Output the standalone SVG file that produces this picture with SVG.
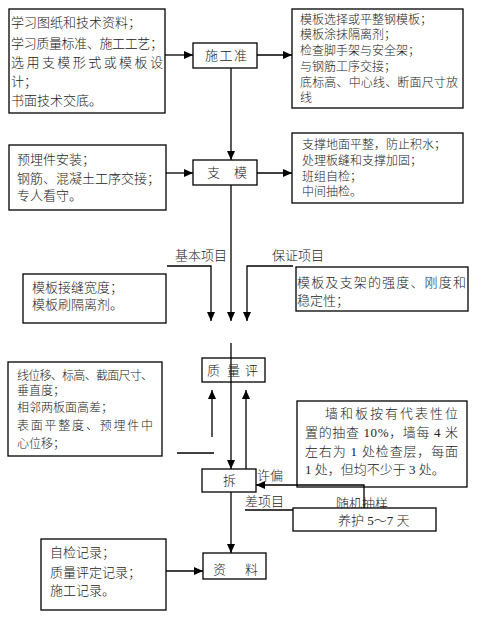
<svg xmlns="http://www.w3.org/2000/svg" width="487" height="619" viewBox="0 0 487 619">
<defs>
<marker id="ah" markerUnits="userSpaceOnUse" markerWidth="10" markerHeight="8" refX="9" refY="4" orient="auto">
<path d="M0,0 L9,4 L0,8 Z" fill="#000"/>
</marker>
<style>
.b{fill:#fff;stroke:#000;stroke-width:1.3}
.c{fill:none;stroke:#000;stroke-width:1.3}
.a{marker-end:url(#ah)}
text{font-family:"Liberation Serif","Noto Sans CJK SC",serif;font-size:13px;fill:#222;font-weight:300}
.s{font-size:12px}
</style>
</defs>
<rect width="487" height="619" fill="#fff"/>
<g id="connectors">
<path class="c a" d="M165,55 H193"/>
<path class="c a" d="M257,55 H292"/>
<path class="c a" d="M231,68 V160"/>
<path class="c a" d="M166,173 H193"/>
<path class="c a" d="M257,173 H292"/>
<path class="c a" d="M231,185 V321"/>
<path class="c a" d="M167,266 H211 V321"/>
<path class="c a" d="M293,266 H247 V321"/>
<path class="c a" d="M231,343 V469"/>
<path class="c a" d="M212,437 V390"/>
<path class="c a" d="M246,469 V390"/>
<path class="c" d="M177,453 H214"/>
<path class="c a" d="M364,508 V485 H256"/>
<path class="c" d="M245,510 H293"/>
<path class="c a" d="M231,492 V553"/>
<path class="c a" d="M166,571 H203"/>
</g>
<g id="n-prep-left">
<rect class="b" x="9" y="9" width="156" height="104"/>
<text x="11" y="27">学习图纸和技术资料；</text>
<text x="11" y="48" textLength="152" lengthAdjust="spacing">学习质量标准、施工工艺；</text>
<text x="11" y="67" textLength="152" lengthAdjust="spacing">选用支模形式或模板设</text>
<text x="11" y="86">计；</text>
<text x="11" y="105">书面技术交底。</text>
</g>
<g id="n-prep">
<rect class="b" x="193" y="43" width="64" height="25"/>
<text x="205" y="60" textLength="42" lengthAdjust="spacing">施工准</text>
</g>
<g id="n-prep-right">
<rect class="b" x="292" y="9" width="171" height="99"/>
<text class="s" x="300" y="24">模板选择或平整钢模板；</text>
<text class="s" x="300" y="39">模板涂抹隔离剂；</text>
<text class="s" x="300" y="55">检查脚手架与安全架；</text>
<text class="s" x="300" y="71">与钢筋工序交接；</text>
<text class="s" x="300" y="87" textLength="158" lengthAdjust="spacing">底标高、中心线、断面尺寸放</text>
<text class="s" x="300" y="102">线</text>
</g>
<g id="n-support-left">
<rect class="b" x="9" y="145" width="157" height="65"/>
<text x="17" y="164">预埋件安装；</text>
<text x="17" y="183">钢筋、混凝土工序交接；</text>
<text x="17" y="200">专人看守。</text>
</g>
<g id="n-support">
<rect class="b" x="193" y="160" width="64" height="25"/>
<text x="207 234" y="177">支模</text>
</g>
<g id="n-support-right">
<rect class="b" x="292" y="133" width="171" height="70"/>
<text class="s" x="302" y="149">支撑地面平整，防止积水；</text>
<text class="s" x="302" y="165">处理板缝和支撑加固；</text>
<text class="s" x="302" y="181">班组自检；</text>
<text class="s" x="302" y="196">中间抽检。</text>
</g>
<g id="l-basic"><text x="175" y="260">基本项目</text></g>
<g id="l-guarantee"><text x="272" y="260">保证项目</text></g>
<g id="n-basic-box">
<rect class="b" x="23" y="274" width="143" height="49"/>
<text x="32" y="292">模板接缝宽度；</text>
<text x="32" y="309">模板刷隔离剂。</text>
</g>
<g id="n-guarantee-box">
<rect class="b" x="296" y="267" width="172" height="44"/>
<text x="297" y="287" textLength="169" lengthAdjust="spacing">模板及支架的强度、刚度和</text>
<text x="297" y="305">稳定性；</text>
</g>
<g id="n-quality">
<rect class="b" x="202" y="358" width="63" height="24" style="fill:none"/>
<text x="207 227 245" y="375">质量评</text>
</g>
<g id="n-tolerance-box">
<rect class="b" x="8" y="362" width="154" height="94"/>
<text class="s" x="17" y="380" textLength="136" lengthAdjust="spacing">线位移、标高、截面尺寸、</text>
<text class="s" x="17" y="395">垂直度；</text>
<text class="s" x="17" y="412">相邻两板面高差；</text>
<text class="s" x="17" y="430" textLength="136" lengthAdjust="spacing">表面平整度、预埋件中</text>
<text class="s" x="17" y="448">心位移；</text>
</g>
<g id="n-sample-box">
<rect class="b" x="297" y="401" width="170" height="86" style="fill:none"/>
<text x="325" y="418" textLength="133" lengthAdjust="spacing">墙和板按有代表性位</text>
<text x="305" y="437" textLength="153" lengthAdjust="spacing">置的抽查 10%，墙每 4 米</text>
<text x="305" y="456" textLength="153" lengthAdjust="spacing">左右为 1 处检查层，每面</text>
<text x="305" y="474">1 处，但均不少于 3 处。</text>
</g>
<g id="n-remove">
<rect class="b" x="202" y="469" width="54" height="23" style="fill:none"/>
<text x="223" y="485">拆</text>
</g>
<g id="l-tol1"><text x="257" y="480">许偏</text></g>
<g id="l-tol2"><text x="245" y="506">差项目</text></g>
<g id="l-random"><text x="336" y="508">随机抽样</text></g>
<g id="n-cure">
<rect class="b" x="293" y="508" width="143" height="23"/>
<text x="338" y="525">养护 5～7 天</text>
</g>
<g id="n-records-left">
<rect class="b" x="41" y="539" width="125" height="71"/>
<text x="50" y="557">自检记录；</text>
<text x="50" y="577">质量评定记录；</text>
<text x="50" y="595">施工记录。</text>
</g>
<g id="n-records">
<rect class="b" x="203" y="553" width="63" height="26"/>
<text x="213 245" y="574">资料</text>
</g>
</svg>
